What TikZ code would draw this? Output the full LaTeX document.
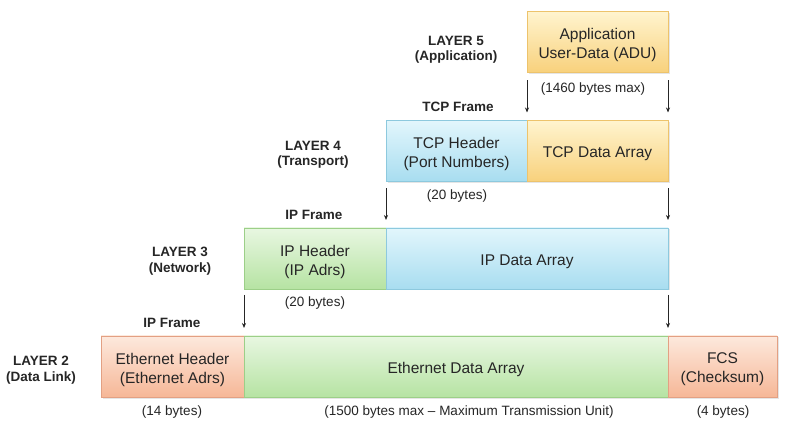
\documentclass[tikz,border=0pt]{standalone}
\usepackage{fontspec}
\setmainfont{Liberation Sans}
\usetikzlibrary{shadows,arrows.meta}
\definecolor{yTop}{HTML}{FFF4CF}
\definecolor{yBot}{HTML}{F8D17C}
\definecolor{yBrd}{HTML}{EDC36C}
\definecolor{bTop}{HTML}{E2F6FC}
\definecolor{bBot}{HTML}{A8DDF0}
\definecolor{bBrd}{HTML}{8DC9DE}
\definecolor{gTop}{HTML}{E8F7E1}
\definecolor{gBot}{HTML}{B6E3A3}
\definecolor{gBrd}{HTML}{9CCF88}
\definecolor{sTop}{HTML}{FDE9DD}
\definecolor{sBot}{HTML}{F6B797}
\definecolor{sBrd}{HTML}{E3A083}
\definecolor{txt}{HTML}{262626}
\tikzset{
  x=1pt, y=-1pt,
  ftext/.style={align=center, font=\fontsize{15.5}{19}\selectfont, text=txt, yshift=-3pt, inner sep=0pt},
  field/.style={rectangle, inner sep=0pt, outer sep=0pt, minimum height=61pt,
    line width=0.8pt, label={[ftext]center:#1},
    drop shadow={shadow xshift=1.5pt, shadow yshift=-1.5pt, opacity=0.25, fill=black!40}},
  yel/.style={field=#1, draw=yBrd, top color=yTop, bottom color=yBot},
  blu/.style={field=#1, draw=bBrd, top color=bTop, bottom color=bBot},
  grn/.style={field=#1, draw=gBrd, top color=gTop, bottom color=gBot},
  sal/.style={field=#1, draw=sBrd, top color=sTop, bottom color=sBot},
  lay/.style={align=center, font=\bfseries\fontsize{13.5}{15.5}\selectfont, text=txt},
  frm/.style={font=\bfseries\fontsize{13.5}{15.5}\selectfont, text=txt},
  note/.style={font=\fontsize{13.5}{15}\selectfont, text=txt},
  arr/.style={-{Stealth[length=5pt,width=4pt]}, line width=0.7pt, black!85},
}
\begin{document}
\begin{tikzpicture}
\useasboundingbox (0,0) rectangle (800,435);
\fill[white] (0,0) rectangle (800,435);

% Layer 5
\node[yel={Application\\User-Data (ADU)}, minimum width=141pt] (adu) at (597.5,42) {};
\node[lay] (l5) at (456,50) {LAYER 5\\(Application)};
\node[note] (n1460) at (593,89) {(1460 bytes max)};
\node[frm] (tcpf) at (458,107) {TCP Frame};

% Layer 4
\node[blu={TCP Header\\(Port Numbers)}, minimum width=141pt] (tcph) at (456.5,151) {};
\node[yel={TCP Data Array}, minimum width=141pt] (tcpd) at (597.5,151) {};
\node[lay] (l4) at (313,155) {LAYER 4\\(Transport)};
\node[note] (n20a) at (457,196) {(20 bytes)};
\node[frm] (ipf1) at (314,215) {IP Frame};

% Layer 3
\node[grn={IP Header\\(IP Adrs)}, minimum width=142pt] (iph) at (315,258.5) {};
\node[blu={IP Data Array}, minimum width=282pt] (ipd) at (527,258.5) {};
\node[lay] (l3) at (180,261) {LAYER 3\\(Network)};
\node[note] (n20b) at (315,303) {(20 bytes)};
\node[frm] (ipf2) at (172,323) {IP Frame};

% Layer 2
\node[sal={Ethernet Header\\(Ethernet Adrs)}, minimum width=143pt] (eth) at (172.5,366.5) {};
\node[grn={Ethernet Data Array}, minimum width=424pt] (ethd) at (456,366.5) {};
\node[sal={FCS\\(Checksum)}, minimum width=109pt] (fcs) at (722.5,366.5) {};
\node[lay] (l2) at (41,370) {LAYER 2\\(Data Link)};
\node[note] (n14) at (172,412) {(14 bytes)};
\node[note] (n1500) at (469,412) {(1500 bytes max -- Maximum Transmission Unit)};
\node[note] (n4) at (723,412) {(4 bytes)};

% arrows
\draw[arr] ([yshift=-8pt]adu.south west) -- ([yshift=8pt]adu.south west |- tcph.north);
\draw[arr] ([yshift=-8pt]adu.south east) -- ([yshift=8pt]adu.south east |- tcpd.north);
\draw[arr] ([yshift=-7pt]tcph.south west) -- ([yshift=8pt]tcph.south west |- iph.north);
\draw[arr] ([yshift=-7pt]tcpd.south east) -- ([yshift=8pt]tcpd.south east |- ipd.north);
\draw[arr] ([yshift=-6pt]iph.south west) -- ([yshift=8pt]iph.south west |- eth.north);
\draw[arr] ([yshift=-6pt]ipd.south east) -- ([yshift=8pt]ipd.south east |- ethd.north);
\end{tikzpicture}
\end{document}
